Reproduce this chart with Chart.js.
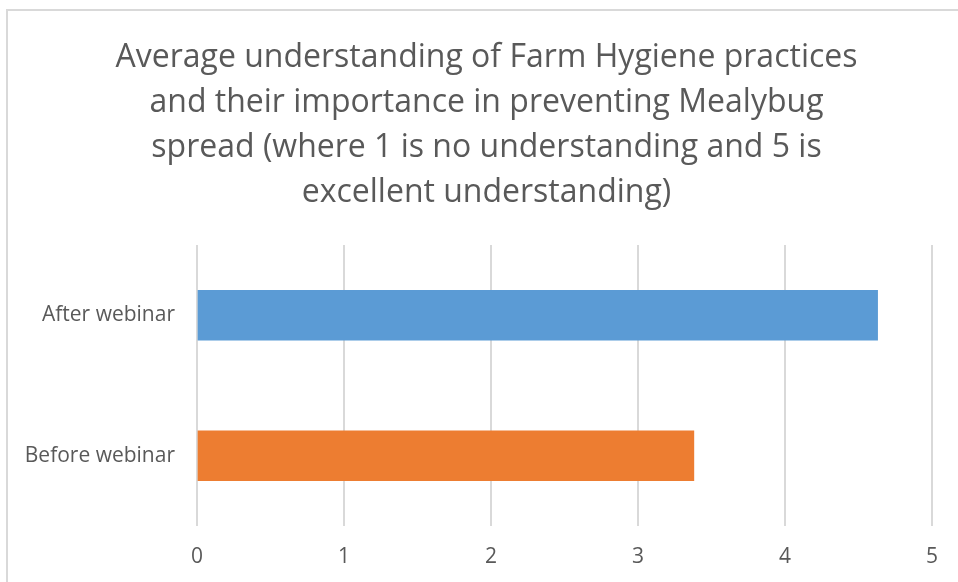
<!DOCTYPE html>
<html>
<head>
<meta charset="utf-8">
<script src="https://cdn.jsdelivr.net/npm/chart.js@4"></script>
<style>
  html, body { margin: 0; padding: 0; background: #fff; overflow: hidden; }
  #frame { position: absolute; left: 6px; top: 9px; width: 1000px; height: 700px; border: 2px solid #d9d9d9; }
  #wrap { position: absolute; left: 0; top: 0; width: 958px; height: 582px; }
</style>
</head>
<body>
<div id="frame"></div>
<div id="wrap"><canvas id="chart"></canvas></div>
<script>
const categories = ['After webinar', 'Before webinar']
const scores = [4.63, 3.38]
const barColors = ['#5b9bd5', '#ed7d31']
const xTicks = [0, 1, 2, 3, 4, 5]
const titleLines = [
    'Average understanding of Farm Hygiene practices',
    'and their importance in preventing Mealybug',
    'spread (where 1 is no understanding and 5 is',
    'excellent understanding)'
]

const fontFamily = "'Open Sans', sans-serif";
const ctx = document.getElementById('chart');

// nudge the title box so it centres where the original does
const titleShift = {
    id: 'titleShift',
    afterLayout(chart) {
        if (chart.titleBlock) {
            chart.titleBlock.left = 41;
            chart.titleBlock.right = 932;
        }
    }
};

var chartData = {
    labels: categories,
    datasets: [{
        label: 'Average understanding',
        data: scores,
        backgroundColor: barColors,
        barThickness: 50
    }]
}

var chartOptions = {
    indexAxis: 'y',
    responsive: false,
    animation: false,
    layout: {
        padding: { left: 0, right: 26, top: 0, bottom: 0 }
    },
    scales: {
        x: {
            min: 0,
            max: 5,
            afterBuildTicks: (axis) => { axis.ticks = xTicks.map(v => ({ value: v })) },
            afterFit: (axis) => { axis.height = 56 },
            grid: { color: '#d9d9d9', lineWidth: 2, drawTicks: false },
            border: { display: false },
            ticks: { color: '#595959', font: { family: fontFamily, size: 21 }, padding: 18 }
        },
        y: {
            afterFit: (axis) => { axis.width = 197 },
            grid: { display: false, drawTicks: false },
            border: { display: false },
            ticks: { color: '#595959', font: { family: fontFamily, size: 21 }, padding: 22 }
        }
    },
    plugins: {
        legend: { display: false },
        tooltip: { enabled: false },
        title: {
            display: true,
            text: titleLines,
            color: '#595959',
            font: { family: fontFamily, size: 32, weight: 'normal', lineHeight: '45px' },
            padding: { top: 35, bottom: 30 }
        }
    }
};

ctx.width = 958;
ctx.height = 582;

var myChart = new Chart(ctx, {
    type: 'bar',
    data: chartData,
    options: chartOptions,
    plugins: [titleShift]
});
</script>
</body>
</html>
